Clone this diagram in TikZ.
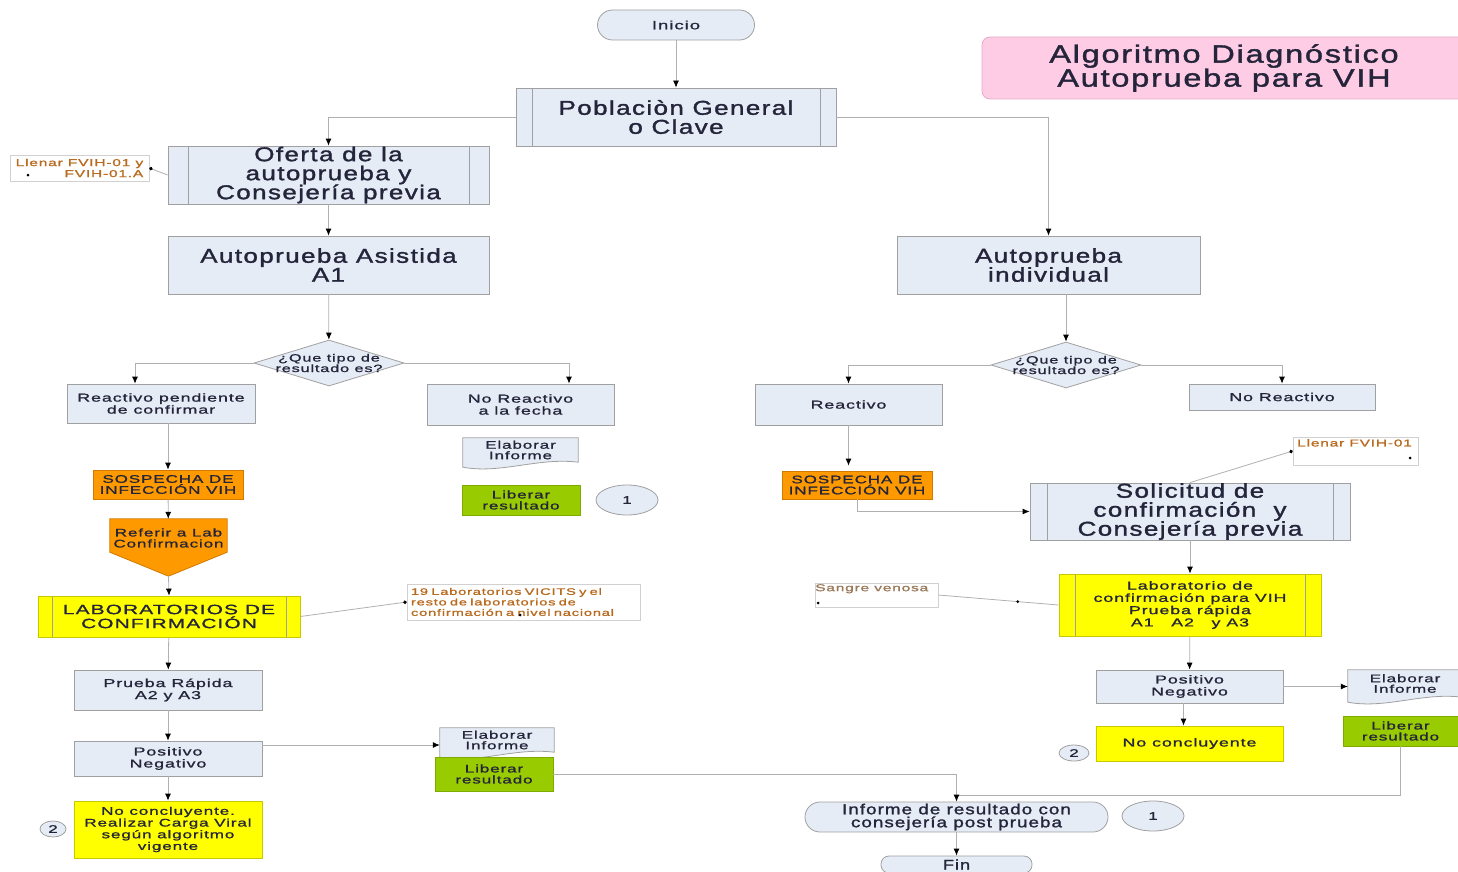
\documentclass[tikz,border=0pt]{standalone}
\usepackage{fontspec}
\setmainfont{Liberation Sans}
\newfontfamily\bigf{Liberation Sans}[FakeStretch=1.3, LetterSpace=7, FakeBold=1.5]
\newfontfamily\smf{Liberation Sans}[FakeStretch=1.55, LetterSpace=8, FakeBold=1.2]
\usetikzlibrary{arrows.meta,shapes.geometric,backgrounds}
\newcommand{\fsz}[2]{\fontsize{#1}{#2}\selectfont}
\definecolor{boxc}{HTML}{E6ECF6}
\definecolor{bordc}{HTML}{A0A0A0}
\definecolor{linec}{HTML}{B0B0B0}
\definecolor{txtc}{HTML}{24243A}
\definecolor{notec}{HTML}{B86A1E}
\definecolor{orgc}{HTML}{FF9900}
\definecolor{orgb}{HTML}{D07A00}
\definecolor{yelc}{HTML}{FFFF00}
\definecolor{yelb}{HTML}{C8C800}
\definecolor{grnc}{HTML}{99CC00}
\definecolor{grnb}{HTML}{7FAA00}
\definecolor{pinkc}{HTML}{FFCCE5}
\definecolor{pinkb}{HTML}{E8A8C8}
\newcommand{\docshp}[1]{%
  \filldraw[draw=bordc, fill=boxc, line width=0.8pt] (#1.north west) -- (#1.north east) -- (#1.south east)
    .. controls ([xshift=-40pt,yshift=5pt]#1.south east) and ([xshift=38pt,yshift=-12pt]#1.south west) .. ([yshift=-5pt]#1.south west) -- cycle;}
\begin{document}
\begin{tikzpicture}[x=1pt,y=-1pt,
  box/.style={draw=bordc, fill=boxc, line width=0.8pt, inner sep=0pt, align=center, text=txtc},
  sz/.style 2 args={minimum width=#1, minimum height=#2},
  predef/.style={box, path picture={\draw[draw=bordc,line width=0.8pt]
      ([xshift=#1]path picture bounding box.north west) -- ([xshift=#1]path picture bounding box.south west)
      ([xshift=-#1]path picture bounding box.north east) -- ([xshift=-#1]path picture bounding box.south east);}},
  predef/.default=16pt,
  term/.style={box, rounded corners=#1},
  conn/.style={box, ellipse, font=\smf\fsz{11}{12}},
  dia/.style={box, diamond, aspect=3.2, inner xsep=-10pt, inner ysep=0pt, minimum width=150, minimum height=46},
  smalltxt/.style={font=\smf\fsz{11.5}{12}},
  bigtxt/.style={font=\bigf\fsz{20}{19}},
  orangebox/.style={box, fill=orgc, draw=orgb, font=\smf\fsz{11}{11}},
  yellowbox/.style={fill=yelc, draw=yelb},
  greenbox/.style={box, fill=grnc, draw=grnb, font=\smf\fsz{11}{11}},
  notebox/.style={draw=black!18, fill=white, line width=0.6pt, inner sep=0pt, text=notec},
  docn/.style={inner sep=0pt, align=center, text=txtc, font=\smf\fsz{11}{10.5}},
  ln/.style={draw=linec, line width=0.8pt},
  arr/.style={ln, -{Latex[length=7pt,width=6pt,color=black]}},
  dotend/.style={ln, -{Circle[length=3.5pt,color=black]}},
  dotn/.style={circle, fill=black, inner sep=0pt, minimum size=3pt}
]
\useasboundingbox (0,0) rectangle (1458,872);

% ---------- top ----------
\node[term=15pt, sz={157}{30}, font=\smf\fsz{12}{13}] (ini) at (676,25) {Inicio};
\node[predef, sz={320}{58}, bigtxt] (pob) at (676,117) {Poblaciòn General\\o Clave};
\node[box, fill=pinkc, draw=pinkb, rounded corners=8pt, sz={484}{62}, font=\bigf\fsz{25}{24}] (ttl) at (1224,68) {Algoritmo Diagnóstico\\Autoprueba para VIH};

% ---------- left branch ----------
\node[predef=20pt, sz={321}{58}, bigtxt] (ofe) at (328.5,175) {Oferta de la\\autoprueba y\\Consejería previa};
\node[notebox, sz={139}{26}, align=right, font=\smf\fsz{10}{11}] (nt1) at (79.5,168) {Llenar FVIH-01 y\\FVIH-01.A};
\node[dotn] (nt1d) at (28,175) {};
\node[box, sz={321}{58}, bigtxt] (apa) at (328.5,265) {Autoprueba Asistida\\A1};
\node[dia, font=\smf\fsz{10.5}{10.5}] (d1) at (329,363) {¿Que tipo de\\resultado es?};
\node[box, sz={188}{39}, smalltxt] (rpc) at (161,403.5) {Reactivo pendiente\\de confirmar};
\node[box, sz={187}{41}, smalltxt] (nrf) at (520.5,404.5) {No Reactivo\\a la fecha};
\node[docn, sz={115}{24}] (ei1) at (520.5,450) {Elaborar\\Informe};
\node[greenbox, sz={118}{30}] (lr1) at (521,500) {Liberar\\resultado};
\node[conn, sz={62}{30}] (c1a) at (627,500) {1};
\node[orangebox, sz={150}{29}] (sos1) at (168,484.5) {SOSPECHA DE\\INFECCIÓN VIH};
\node[inner sep=0pt, sz={117}{57}] (ref) at (168.5,547.5) {};
\node[docn, font=\smf\fsz{11}{11}] (reft) at (168.5,538) {Referir a Lab\\Confirmacion};
\node[predef=14pt, yellowbox, sz={262}{41}, font=\smf\fsz{13.5}{14}] (lab1) at (169,616.5) {LABORATORIOS DE\\CONFIRMACIÓN};
\node[notebox, sz={233}{36}, text width=225pt, align=left, font=\smf\fsz{9.5}{10.5}] (nt2) at (523.5,602) {19 Laboratorios VICITS y el\\resto de laboratorios de\\confirmación a nivel nacional};
\node[dotn] (nt2d) at (520,615) {};
\node[box, sz={188}{40}, smalltxt] (pra) at (168,690) {Prueba Rápida\\A2 y A3};
\node[box, sz={188}{35}, smalltxt] (pn1) at (168,758.5) {Positivo\\Negativo};
\node[box, yellowbox, sz={188}{57}, font=\smf\fsz{11}{11.7}] (nc1) at (168,829.5) {No concluyente.\\Realizar Carga Viral\\según algoritmo\\vigente};
\node[conn, sz={26}{16}] (c2a) at (53,829) {2};
\node[greenbox, sz={118}{34}] (lr2) at (494,774) {Liberar\\resultado};
\node[docn, sz={114}{24}] (ei2) at (497,740) {Elaborar\\Informe};

% ---------- bottom ----------
\node[term=15pt, sz={303}{30}, font=\bigf\fsz{14.5}{13}] (inf) at (956.5,817) {Informe de resultado con\\consejería post prueba};
\node[conn, sz={62}{30}] (c1b) at (1153,816) {1};
\node[term=8pt, sz={151}{17}, font=\bigf\fsz{14}{14}] (fin) at (956.5,864.5) {Fin};

% ---------- right branch ----------
\node[box, sz={303}{58}, bigtxt] (api) at (1048.5,265) {Autoprueba\\individual};
\node[dia, font=\smf\fsz{10.5}{10.5}] (d2) at (1066,365) {¿Que tipo de\\resultado es?};
\node[box, sz={187}{41}, smalltxt] (re) at (848.5,404.5) {Reactivo};
\node[box, sz={186}{26}, smalltxt] (nr) at (1282,397) {No Reactivo};
\node[orangebox, sz={150}{28}] (sos2) at (857,485) {SOSPECHA DE\\INFECCIÓN VIH};
\node[predef=17pt, sz={320}{57}, bigtxt] (sol) at (1190,511.5) {Solicitud de\\confirmación~~y\\Consejería previa};
\node[notebox, sz={125}{28}, font=\smf\fsz{10}{11}] (nt3) at (1355.5,451) {};
\node[inner sep=0pt, anchor=north west, text=notec, font=\smf\fsz{10}{11}] (nt3t) at (1297,439) {Llenar FVIH-01};
\node[dotn] (nt3d) at (1410,458) {};
\node[predef, yellowbox, sz={262}{62}, font=\smf\fsz{11.5}{12.3}] (lab2) at (1190,605) {Laboratorio de\\confirmación para VIH\\Prueba rápida\\A1~~~A2~~~y A3};
\node[notebox, sz={123}{24}] (nt4) at (876.5,595) {};
\node[inner sep=0pt, anchor=north west, text=notec!60!black!70, font=\smf\fsz{10}{11}] (nt4t) at (815,584) {Sangre venosa};
\node[dotn] (nt4d) at (818,603) {};
\node[box, sz={187}{33}, smalltxt] (pn2) at (1189.5,686.5) {Positivo\\Negativo};
\node[docn, sz={114}{27}] (ei3) at (1405,683.5) {Elaborar\\Informe};
\node[box, yellowbox, sz={187}{35}, smalltxt] (nc2) at (1189.5,743.5) {No concluyente};
\node[conn, sz={30}{16}] (c2b) at (1074,753) {2};
\node[greenbox, sz={115}{30}] (lr3) at (1400.5,731) {Liberar\\resultado};

% ---------- background shapes ----------
\begin{scope}[on background layer]
  \docshp{ei1}
  \docshp{ei2}
  \docshp{ei3}
  \filldraw[fill=orgc, draw=orgb, line width=0.8pt] (ref.north west) -- (ref.north east)
     -- ([yshift=24pt]ref.south east) -- (ref.south) -- ([yshift=24pt]ref.south west) -- cycle;
\end{scope}

% ---------- connectors ----------
\draw[arr] (ini) -- (pob);
\draw[arr] (pob.west) -| (ofe.north);
\draw[dotend] (ofe.west) -- (nt1.east);
\draw[arr] (ofe) -- (apa);
\draw[arr] (apa) -- (d1);
\draw[arr] (d1.west) -| ([xshift=-26pt]rpc.north);
\draw[arr] (d1.east) -| ([xshift=48.5pt]nrf.north);
\draw[arr] (rpc.south -| sos1.north) -- (sos1.north);
\draw[arr] (sos1) -- (ref);
\draw[arr] (ref.south) -- (lab1.north);
\draw[dotend] (lab1.east) -- (nt2.west);
\draw[arr] (lab1) -- (pra);
\draw[arr] (pra) -- (pn1);
\draw[arr] (pn1) -- (nc1);
\draw[arr] ([yshift=-5pt]ei2.west -| pn1.east) -- ([yshift=-5pt]ei2.west);
\coordinate (jn) at (956.5,795);
\draw[ln] (lr3.south) |- (jn);
\draw[arr] (lr2.east) -| (inf.north);
\draw[arr] (inf) -- (fin);
\draw[arr] (pob.east) -| (api.north);
\draw[arr] (api.south -| d2.north) -- (d2.north);
\draw[arr] (d2.west) -| (re.north);
\draw[arr] (d2.east) -| (nr.north);
\draw[arr] (re.south) -- ([yshift=5pt]re.south |- sos2.north);
\draw[arr] (sos2.south) |- (sol.west);
\draw[dotend] (sol.north) -- (nt3.west);
\draw[arr] (sol) -- (lab2);
\draw[ln] (lab2.west) -- node[dotn, pos=0.34] (dm) {} (nt4.east);
\draw[arr] (lab2) -- (pn2);
\draw[arr] (pn2.east) -- (pn2.east -| ei3.west);
\draw[arr] ([xshift=-6pt]pn2.south) -- ([xshift=-6pt]nc2.north);
\end{tikzpicture}
\end{document}
